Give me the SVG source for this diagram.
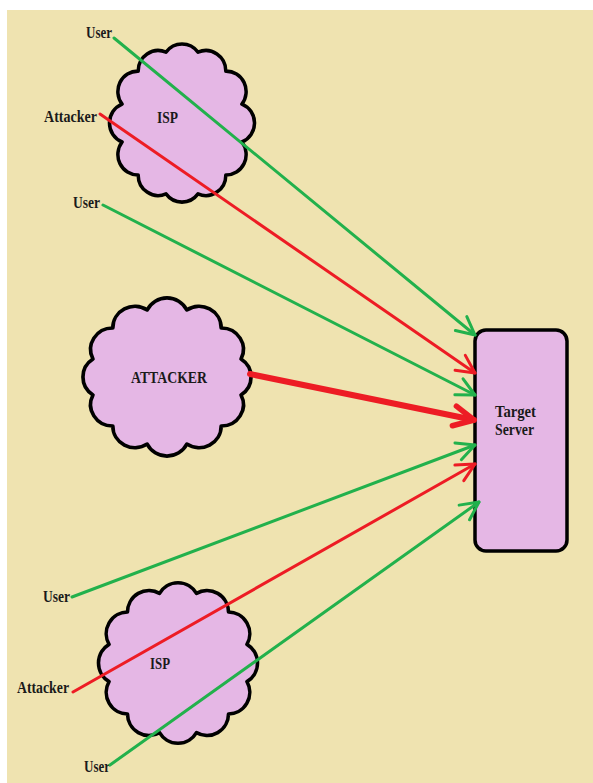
<svg xmlns="http://www.w3.org/2000/svg" width="593" height="783" viewBox="0 0 593 783">
<style>
.cloud{fill:#E5B7E5;stroke:#000;stroke-width:3.5;stroke-linejoin:round}
.lbl{font-family:"Liberation Serif","Times New Roman",serif;font-weight:bold;font-size:16px;fill:#1a1a1a}
.g{stroke:#22B14C;stroke-width:3;fill:none;stroke-linecap:round}
.r{stroke:#ED1C24;stroke-width:3;fill:none;stroke-linecap:round}
.rt{stroke:#ED1C24;stroke-width:6;fill:none;stroke-linecap:round}
</style>
<defs>
<marker id="ag" markerUnits="userSpaceOnUse" markerWidth="40" markerHeight="40" refX="0" refY="0" orient="auto" viewBox="-25 -20 30 40" overflow="visible">
<path d="M-18,-9 L0,0 L-18,9" fill="none" stroke="#22B14C" stroke-width="3" stroke-linecap="round" stroke-linejoin="round"/>
</marker>
<marker id="ar" markerUnits="userSpaceOnUse" markerWidth="40" markerHeight="40" refX="0" refY="0" orient="auto" viewBox="-25 -20 30 40" overflow="visible">
<path d="M-18,-9 L0,0 L-18,9" fill="none" stroke="#ED1C24" stroke-width="3" stroke-linecap="round" stroke-linejoin="round"/>
</marker>
<marker id="art" markerUnits="userSpaceOnUse" markerWidth="40" markerHeight="40" refX="0" refY="0" orient="auto" viewBox="-25 -20 30 40" overflow="visible">
<path d="M-20,-10 L0,0 L-20,10" fill="none" stroke="#ED1C24" stroke-width="5.5" stroke-linecap="round" stroke-linejoin="round"/>
</marker>
</defs>
<rect x="0" y="0" width="593" height="783" fill="#ffffff"/>
<rect x="7" y="10" width="586" height="773" fill="#EFE3B0"/>

<g id="isp-top">
<path class="cloud" d="M166,53.5 A20,20 0 0 1 198,53.5 A20,20 0 0 1 225.8,72.1 A20,20 0 0 1 241.9,104.4 A20,20 0 0 1 241.9,141.6 A20,20 0 0 1 225.8,173.9 A20,20 0 0 1 198,192.5 A20,20 0 0 1 166,192.5 A20,20 0 0 1 138.2,173.9 A20,20 0 0 1 122.1,141.6 A20,20 0 0 1 122.1,104.4 A20,20 0 0 1 138.2,72.1 A20,20 0 0 1 166,53.5 Z" transform="translate(182,121) scale(1,1.02) translate(-182,-121)"/>
<text class="lbl" x="157" y="123" textLength="21" lengthAdjust="spacingAndGlyphs">ISP</text>
</g>

<g id="attacker-cloud">
<path class="cloud" d="M148.1,311.3 A21,21 0 0 1 185.9,311.3 A21,21 0 0 1 218.6,328.9 A21,21 0 0 1 237.5,359.4 A21,21 0 0 1 237.5,394.6 A21,21 0 0 1 218.6,425.1 A21,21 0 0 1 185.9,442.7 A21,21 0 0 1 148.1,442.7 A21,21 0 0 1 115.4,425.1 A21,21 0 0 1 96.5,394.6 A21,21 0 0 1 96.5,359.4 A21,21 0 0 1 115.4,328.9 A21,21 0 0 1 148.1,311.3 Z" transform="translate(167,377) scale(1.05,1.02) translate(-167,-377)"/>
<text class="lbl" x="131" y="383" textLength="76" lengthAdjust="spacingAndGlyphs">ATTACKER</text>
</g>

<g id="isp-bottom">
<path class="cloud" d="M159.9,595.4 A21,21 0 0 1 196.1,595.4 A21,21 0 0 1 227.5,613.5 A21,21 0 0 1 245.6,644.9 A21,21 0 0 1 245.6,681.1 A21,21 0 0 1 227.5,712.5 A21,21 0 0 1 196.1,730.6 A21,21 0 0 1 159.9,730.6 A21,21 0 0 1 128.5,712.5 A21,21 0 0 1 110.4,681.1 A21,21 0 0 1 110.4,644.9 A21,21 0 0 1 128.5,613.5 A21,21 0 0 1 159.9,595.4 Z" transform="translate(178,663) scale(1.02,1.03) translate(-178,-663)"/>
<text class="lbl" x="150" y="669" textLength="20" lengthAdjust="spacingAndGlyphs">ISP</text>
</g>

<g id="target-server">
<rect x="475" y="330" width="92" height="221" rx="11" ry="11" fill="#E5B7E5" stroke="#000" stroke-width="3.5"/>
<text class="lbl" x="495" y="417" textLength="41" lengthAdjust="spacingAndGlyphs">Target</text>
<text class="lbl" x="495" y="435" textLength="39" lengthAdjust="spacingAndGlyphs">Server</text>
</g>

<g id="user-top"><text class="lbl" x="86" y="38" textLength="26" lengthAdjust="spacingAndGlyphs">User</text></g>
<g id="attacker-top"><text class="lbl" x="44" y="122" textLength="53" lengthAdjust="spacingAndGlyphs">Attacker</text></g>
<g id="user-mid"><text class="lbl" x="73" y="208" textLength="27" lengthAdjust="spacingAndGlyphs">User</text></g>
<g id="user-bottom1"><text class="lbl" x="43" y="602" textLength="27" lengthAdjust="spacingAndGlyphs">User</text></g>
<g id="attacker-bottom"><text class="lbl" x="17" y="693" textLength="52" lengthAdjust="spacingAndGlyphs">Attacker</text></g>
<g id="user-bottom2"><text class="lbl" x="84" y="772" textLength="26" lengthAdjust="spacingAndGlyphs">User</text></g>

<g id="connectors">
<line class="g" x1="114" y1="38" x2="475" y2="335" marker-end="url(#ag)"/>
<line class="r" x1="100" y1="114" x2="475" y2="373" marker-end="url(#ar)"/>
<line class="g" x1="103" y1="205" x2="475" y2="395" marker-end="url(#ag)"/>
<line class="rt" x1="250" y1="374" x2="474" y2="420" marker-end="url(#art)"/>
<line class="g" x1="72" y1="597" x2="475" y2="445" marker-end="url(#ag)"/>
<line class="r" x1="73" y1="692" x2="475" y2="464" marker-end="url(#ar)"/>
<line class="g" x1="110" y1="765" x2="479" y2="502" marker-end="url(#ag)"/>
</g>
</svg>
